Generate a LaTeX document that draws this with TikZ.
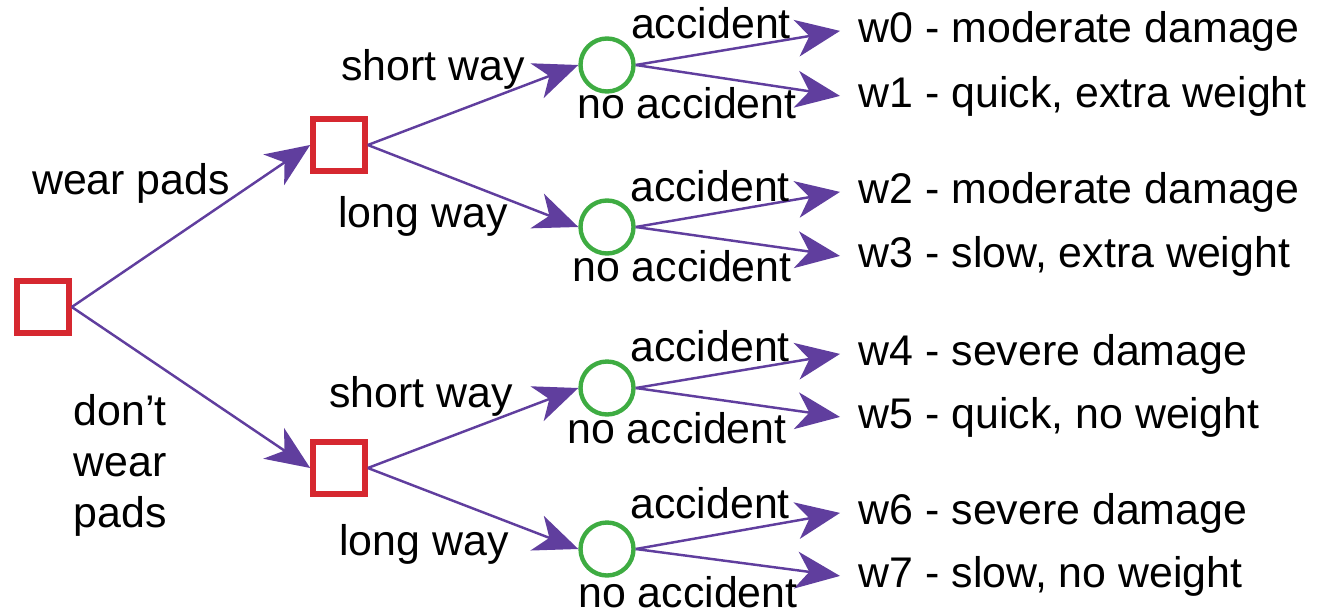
\documentclass[tikz,border=0pt]{standalone}
\usepackage{fontspec}
\setmainfont{Liberation Sans}
\usetikzlibrary{arrows.meta}
\definecolor{choicered}{RGB}{214,40,48}
\definecolor{chancegreen}{RGB}{62,172,66}
\definecolor{branchpurple}{RGB}{96,62,158}
\tikzset{
	every node/.style={font=\fontsize{12.2pt}{14.5pt}\selectfont},
	choice/.style={draw=choicered, line width=1.6pt, minimum size=0.52cm, inner sep=0pt},
	chance/.style={circle, draw=chancegreen, line width=1.25pt, minimum size=0.53cm, inner sep=0pt},
	branch/.style={draw=branchpurple, line width=0.7pt, -{Stealth[length=0.44cm, width=0.37cm, inset=0.13cm, fill=branchpurple]}},
	lbl/.style={anchor=base, inner sep=0pt},
	outcome/.style={anchor=base west, inner xsep=0.18cm, inner ysep=0pt},
}

\begin{document}
\begin{tikzpicture}
	%%%%% START %%%%%
	\useasboundingbox (0, 0) rectangle (13.17, -6.12);
	
	% decision squares
	\node[choice] (root) at (0.43, -3.07) {};
	\node[choice] (pads) at (3.39, -1.45) {};
	\node[choice] (nopads) at (3.39, -4.68) {};
	
	% chance circles
	\node[chance] (padsshort) at (6.07, -0.65) {};
	\node[chance] (padslong) at (6.07, -2.27) {};
	\node[chance] (nopadsshort) at (6.07, -3.88) {};
	\node[chance] (nopadslong) at (6.07, -5.49) {};
	
	% outcomes
	\node[outcome] (w0) at (8.40, -0.42) {w0 - moderate damage};
	\node[outcome] (w1) at (8.40, -1.07) {w1 - quick, extra weight};
	\node[outcome] (w2) at (8.40, -2.03) {w2 - moderate damage};
	\node[outcome] (w3) at (8.40, -2.67) {w3 - slow, extra weight};
	\node[outcome] (w4) at (8.40, -3.65) {w4 - severe damage};
	\node[outcome] (w5) at (8.40, -4.28) {w5 - quick, no weight};
	\node[outcome] (w6) at (8.40, -5.24) {w6 - severe damage};
	\node[outcome] (w7) at (8.40, -5.87) {w7 - slow, no weight};
	
	% branches
	\draw[branch] (root.east) -- (pads.west);
	\draw[branch] (root.east) -- (nopads.west);
	
	\draw[branch] (pads.east) -- (padsshort.west);
	\draw[branch] (pads.east) -- (padslong.west);
	\draw[branch] (nopads.east) -- (nopadsshort.west);
	\draw[branch] (nopads.east) -- (nopadslong.west);
	
	\draw[branch] (padsshort.east) -- (w0.west);
	\draw[branch] (padsshort.east) -- (w1.west);
	\draw[branch] (padslong.east) -- (w2.west);
	\draw[branch] (padslong.east) -- (w3.west);
	\draw[branch] (nopadsshort.east) -- (w4.west);
	\draw[branch] (nopadsshort.east) -- (w5.west);
	\draw[branch] (nopadslong.east) -- (w6.west);
	\draw[branch] (nopadslong.east) -- (w7.west);
	
	% branch labels
	\node[lbl] (lwear) at (1.31, -1.94) {wear pads};
	\node[lbl, anchor=base west, align=left] (lnowear) at (0.73, -5.27) {don’t\\wear\\pads};
	
	\node[lbl] (lpadsshort) at (4.33, -0.80) {short way};
	\node[lbl] (lpadslong) at (4.23, -2.27) {long way};
	\node[lbl] (lnopadsshort) at (4.21, -4.07) {short way};
	\node[lbl] (lnopadslong) at (4.24, -5.55) {long way};
	
	\node[lbl] (lacc0) at (7.11, -0.38) {accident};
	\node[lbl] (lnoacc0) at (6.87, -1.18) {no accident};
	\node[lbl] (lacc1) at (7.10, -2.01) {accident};
	\node[lbl] (lnoacc1) at (6.82, -2.81) {no accident};
	\node[lbl] (lacc2) at (7.10, -3.61) {accident};
	\node[lbl] (lnoacc2) at (6.77, -4.43) {no accident};
	\node[lbl] (lacc3) at (7.10, -5.18) {accident};
	\node[lbl] (lnoacc3) at (6.88, -6.07) {no accident};
	
	%%%%% END %%%%%
\end{tikzpicture}
\end{document}
